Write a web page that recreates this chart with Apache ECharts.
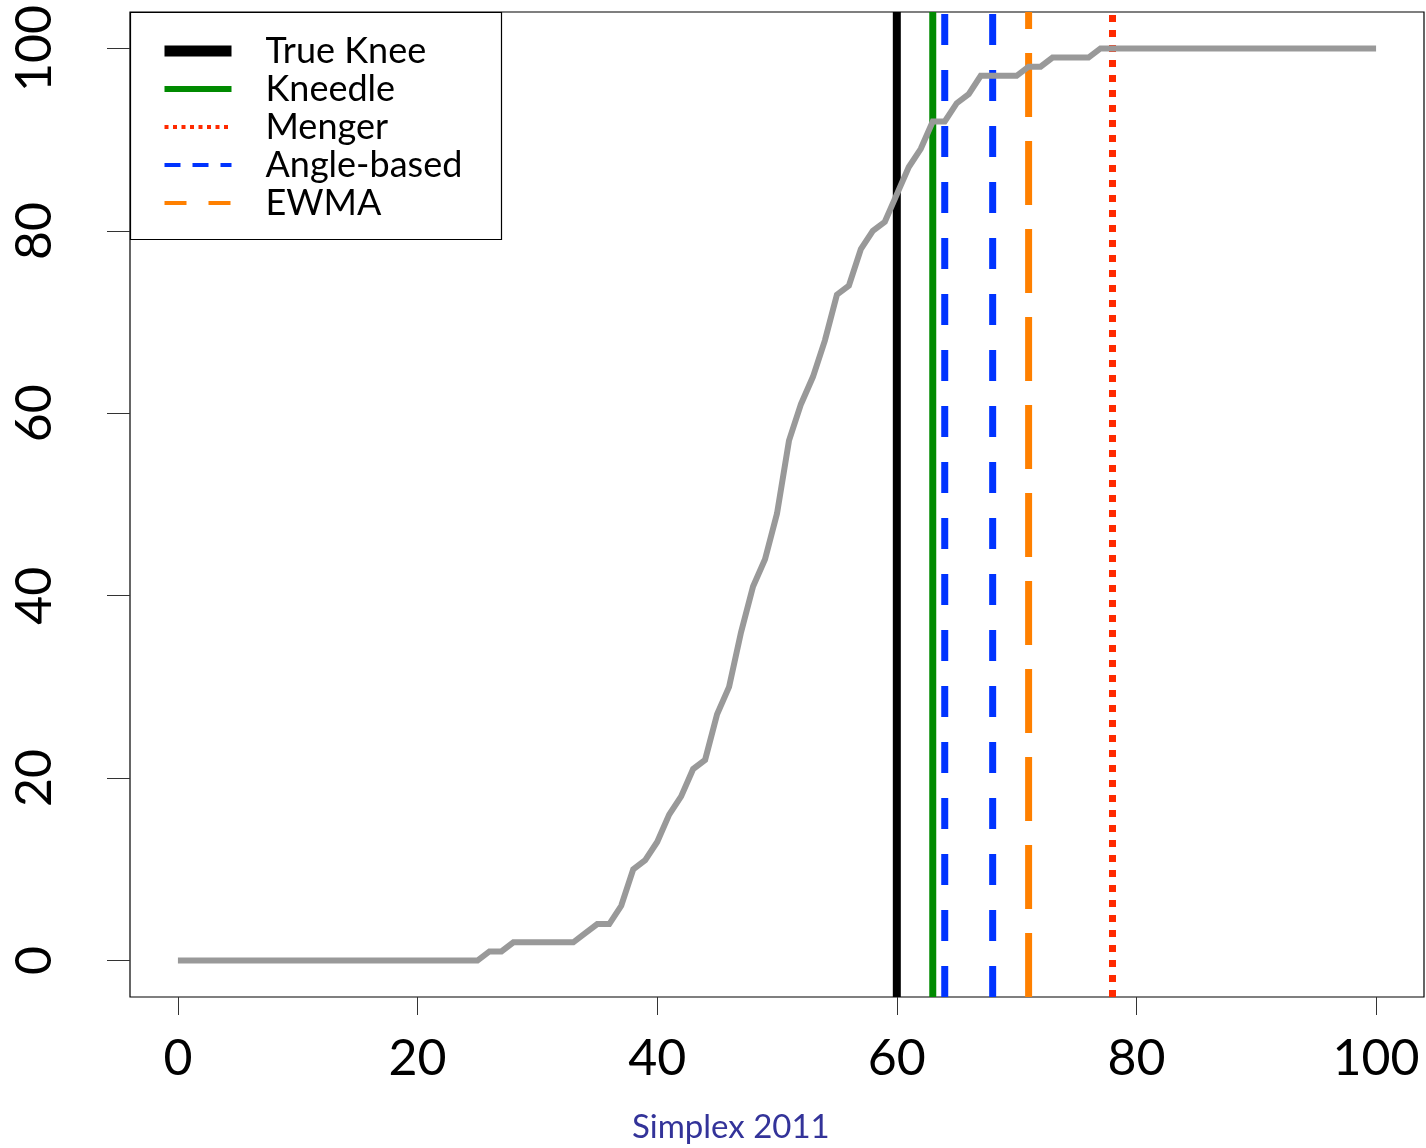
<!DOCTYPE html>
<html>
<head>
<meta charset="utf-8">
<title>Simplex 2011</title>
<script src="https://cdn.jsdelivr.net/npm/echarts@6/dist/echarts.min.js"></script>
<style>
  html, body { margin: 0; padding: 0; background: #fff; }
  #chart { width: 1426px; height: 1148px; }
</style>
</head>
<body>
<div id="chart"></div>
<script>
// Cumulative curve, one value per step starting at x = 0
const curveStart = 0;
const coverage = [
  0, 0, 0, 0, 0, 0, 0, 0, 0, 0,
  0, 0, 0, 0, 0, 0, 0, 0, 0, 0,
  0, 0, 0, 0, 0, 0, 1, 1, 2, 2,
  2, 2, 2, 2, 3, 4, 4, 6, 10, 11,
  13, 16, 18, 21, 22, 27, 30, 36, 41, 44,
  49, 57, 61, 64, 68, 73, 74, 78, 80, 81,
  84, 87, 89, 92, 92, 94, 95, 97, 97, 97,
  97, 98, 98, 99, 99, 99, 99, 100, 100, 100,
  100, 100, 100, 100, 100, 100, 100, 100, 100, 100,
  100, 100, 100, 100, 100, 100, 100, 100, 100, 100,
  100
];

// Knee locations found by each method
const trueKnee = [60];
const kneedle = [63];
const menger = [78];
const angleBased = [64, 68];
const ewma = [71];

// Axis ticks and extents
const xTicks = [0, 20, 40, 60, 80, 100];
const yTicks = [0, 20, 40, 60, 80, 100];
const axisMin = -4;
const axisMax = 104;

const FONT = 'Lato, "DejaVu Sans", sans-serif';

function verticals(name, xs, color, width, dash) {
  return xs.map(x => ({
    name: name,
    type: 'line',
    symbol: 'none',
    silent: true,
    animation: false,
    data: [[x, axisMin], [x, axisMax]],
    itemStyle: { color: color },
    lineStyle: { color: color, width: width, type: dash, cap: 'butt' }
  }));
}

const series = [].concat(
  verticals('True Knee', trueKnee, '#000000', 8, 'solid'),
  verticals('Kneedle', kneedle, '#008a00', 7, 'solid'),
  verticals('Menger', menger, '#ff2a00', 7, [7, 8]),
  verticals('Angle-based', angleBased, '#0033ff', 7, [31, 25]),
  verticals('EWMA', ewma, '#ff8000', 7, [64, 24]),
  [{
    name: 'curve',
    type: 'line',
    symbol: 'none',
    animation: false,
    data: coverage.map((v, i) => [curveStart + i, v]),
    itemStyle: { color: '#999999' },
    lineStyle: { color: '#999999', width: 6, join: 'miter' }
  }]
);

const hiddenMarker = { color: 'rgba(0,0,0,0)', borderWidth: 0, opacity: 0 };

const chart = echarts.init(document.getElementById('chart'), null, { renderer: 'canvas' });
chart.setOption({
  backgroundColor: '#ffffff',
  animation: false,
  title: {
    text: 'Simplex 2011',
    left: 627,
    top: 1106,
    textStyle: { fontFamily: FONT, fontSize: 33, fontWeight: 'normal', color: '#333399' }
  },
  grid: {
    left: 130, top: 12, right: 2, bottom: 151,
    show: true, borderColor: '#000', borderWidth: 1.2, backgroundColor: 'transparent'
  },
  legend: {
    orient: 'vertical',
    left: 159,
    top: 32,
    padding: 0,
    itemWidth: 67,
    itemHeight: 38,
    itemGap: 0,
    selectedMode: false,
    itemStyle: hiddenMarker,
    textStyle: { fontFamily: FONT, fontSize: 36, lineHeight: 26, color: '#000', padding: [12, 0, 0, 29] },
    data: [
      { name: 'True Knee', itemStyle: hiddenMarker, lineStyle: { color: '#000000', width: 11, type: 'solid', opacity: 1 } },
      { name: 'Kneedle', itemStyle: hiddenMarker, lineStyle: { color: '#008a00', width: 6, type: 'solid', opacity: 1 } },
      { name: 'Menger', itemStyle: hiddenMarker, lineStyle: { color: '#ff2a00', width: 4, type: [4, 4.5], opacity: 1 } },
      { name: 'Angle-based', itemStyle: hiddenMarker, lineStyle: { color: '#0033ff', width: 4, type: [16, 12], opacity: 1 } },
      { name: 'EWMA', itemStyle: hiddenMarker, lineStyle: { color: '#ff8000', width: 4, type: [22, 22], opacity: 1 } }
    ]
  },
  graphic: [{
    type: 'rect',
    shape: { x: 130.5, y: 12.5, width: 371, height: 227 },
    style: { fill: '#fff', stroke: '#000', lineWidth: 1.2 },
    z: 1
  }],
  xAxis: {
    type: 'value',
    min: axisMin,
    max: axisMax,
    splitLine: { show: false },
    axisLine: { show: false, onZero: false },
    axisTick: { show: true, length: 18, customValues: xTicks, lineStyle: { color: '#333', width: 1 } },
    axisLabel: {
      customValues: xTicks, margin: 37,
      fontFamily: FONT, fontSize: 50, color: '#000'
    }
  },
  yAxis: {
    type: 'value',
    min: axisMin,
    max: axisMax,
    splitLine: { show: false },
    axisLine: { show: false, onZero: false },
    axisTick: { show: true, length: 23, customValues: yTicks, lineStyle: { color: '#333', width: 1 } },
    axisLabel: {
      customValues: yTicks, rotate: 90, margin: 70,
      fontFamily: FONT, fontSize: 50, color: '#000'
    }
  },
  series: series
});
</script>
</body>
</html>
